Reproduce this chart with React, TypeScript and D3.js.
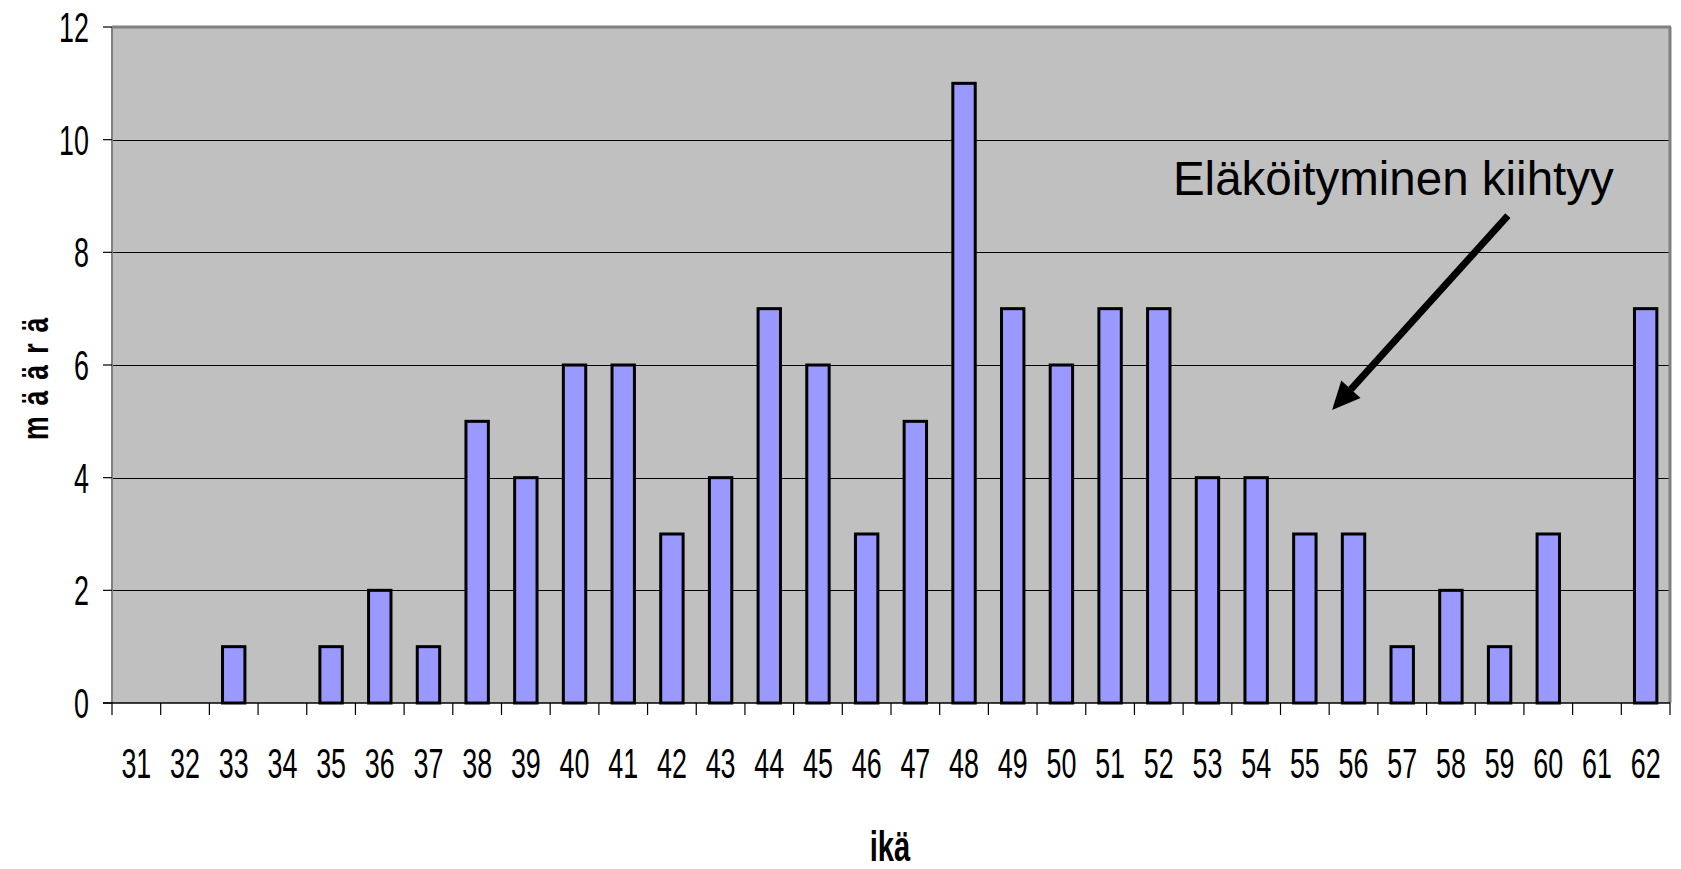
import React from "react";
import * as d3 from "d3";

const ages = [31,32,33,34,35,36,37,38,39,40,41,42,43,44,45,46,47,48,49,50,51,52,53,54,55,56,57,58,59,60,61,62];
const counts = [0,0,1,0,1,2,1,5,4,6,6,3,4,7,6,3,5,11,7,6,7,7,4,4,3,3,1,2,1,3,0,7];
const yTicks = [0,2,4,6,8,10,12];
const yTitle = "m ä ä r ä";
const xTitle = "ikä";
const annotationText = "Eläköityminen kiihtyy";
// annotation anchor points in data space (category index, value)
const arrowFrom = [28.67, 8.65];
const arrowTo = [25.06, 5.2];
const textAt = [21.79, 9.02];

const W = 1681, H = 869;
const L = 112, R = 1670, T = 27, B = 703;

export default function App() {
  const xi = d3.scaleLinear().domain([0, ages.length]).range([L, R]);
  const y = d3.scaleLinear().domain([0, 12]).range([B, T]);
  const step = (R - L) / ages.length;
  const bw = step * 0.46;

  const ax1 = xi(arrowFrom[0]), ay1 = y(arrowFrom[1]);
  const ax2 = xi(arrowTo[0]), ay2 = y(arrowTo[1]);
  const ang = Math.atan2(ay2 - ay1, ax2 - ax1);
  const headLen = 28, headW = 13;
  const bx = ax2 - headLen * Math.cos(ang), by = ay2 - headLen * Math.sin(ang);
  const px = -Math.sin(ang), py = Math.cos(ang);
  const head = [[ax2, ay2], [bx + headW * px, by + headW * py], [bx - headW * px, by - headW * py]];

  return (
    <div style={{ position: "absolute", left: 0, top: 0 }}>
      <svg width={W} height={H} style={{ display: "block", fontFamily: "'Liberation Sans', Arial, sans-serif" }}>
        <rect x={0} y={0} width={W} height={H} fill="#fff" />
        <rect x={L} y={T} width={R - L} height={B - T} fill="#C0C0C0" />
        {yTicks.filter(t => t > 0 && t < 12).map(t => (
          <line key={t} x1={L} x2={R} y1={Math.round(y(t)) + 0.5} y2={Math.round(y(t)) + 0.5} stroke="#000" strokeWidth={1} />
        ))}
        {/* plot border */}
        <line x1={L} x2={R + 1} y1={T} y2={T} stroke="#808080" strokeWidth={3} />
        <line x1={R} x2={R} y1={T} y2={B} stroke="#808080" strokeWidth={3} />
        <line x1={L} x2={L} y1={T} y2={B} stroke="#808080" strokeWidth={2} />
        {/* bars */}
        {ages.map((a, i) => counts[i] > 0 ? (
          <rect key={a} x={xi(i + 0.5) - bw / 2} y={y(counts[i])} width={bw} height={B - y(counts[i])}
            fill="#9999FF" stroke="#000" strokeWidth={3} />
        ) : null)}
        {/* axes */}
        <line x1={L - 9} x2={R} y1={B} y2={B} stroke="#000" strokeWidth={1.5} />
        {yTicks.map(t => (
          <line key={"yt" + t} x1={L - 9} x2={L} y1={y(t)} y2={y(t)} stroke="#000" strokeWidth={1.2} />
        ))}
        {d3.range(ages.length + 1).map(i => (
          <line key={"xt" + i} x1={xi(i)} x2={xi(i)} y1={B} y2={B + 12} stroke="#000" strokeWidth={1.2} />
        ))}
        {yTicks.map(t => (
          <g key={"yl" + t} transform={`translate(89,${y(t)}) scale(0.64,1)`}>
            <text x={0} y={15} textAnchor="end" fontSize={42} fill="#000">{t}</text>
          </g>
        ))}
        {ages.map((a, i) => (
          <g key={"xl" + a} transform={`translate(${xi(i + 0.5)},778) scale(0.64,1)`}>
            <text x={0} y={0} textAnchor="middle" fontSize={42} fill="#000">{a}</text>
          </g>
        ))}
        {/* axis titles */}
        <g transform={`translate(48,378) rotate(-90) scale(0.72,1)`}>
          <text x={0} y={0} textAnchor="middle" fontSize={37} fontWeight="bold" letterSpacing={2.5} fill="#000">{yTitle}</text>
        </g>
        <g transform={`translate(890,861) scale(0.68,1)`}>
          <text x={0} y={0} textAnchor="middle" fontSize={43} fontWeight="bold" fill="#000">{xTitle}</text>
        </g>
        {/* annotation */}
        <text x={xi(textAt[0])} y={y(textAt[1])} fontSize={47.5} fill="#000">{annotationText}</text>
        <line x1={ax1} y1={ay1} x2={bx} y2={by} stroke="#000" strokeWidth={7} />
        <polygon points={head.map(p => p.join(",")).join(" ")} fill="#000" />
      </svg>
    </div>
  );
}
